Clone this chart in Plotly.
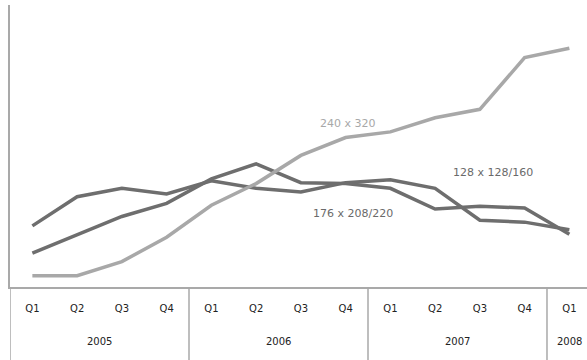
import plotly.graph_objects as go

# Quarterly categories
years = ["2005", "2006", "2007", "2008"]
quarters_per_year = [4, 4, 4, 1]
quarters = ["Q1", "Q2", "Q3", "Q4"] * 3 + ["Q1"]

# Share by screen resolution
res_240x320 = [1.2, 1.2, 2.7, 5.3, 8.7, 11.0, 14.0, 15.9, 16.5, 18.0, 18.9, 24.4, 25.4]
res_128x128_160 = [6.5, 9.6, 10.5, 9.9, 11.3, 10.5, 10.1, 11.1, 11.4, 10.5, 7.1, 6.9, 6.1]
res_176x208_220 = [3.6, 5.5, 7.5, 8.9, 11.5, 13.1, 11.1, 11.0, 10.5, 8.3, 8.6, 8.4, 5.6]

DARK = "#6e6e6e"
LIGHT = "#a8a8a8"
AXIS = "#a9a9a9"
TXT = "#222222"
FONT = "DejaVu Sans"

x = list(range(len(quarters)))

fig = go.Figure()
for vals, col in [(res_128x128_160, DARK), (res_176x208_220, DARK), (res_240x320, LIGHT)]:
    fig.add_trace(go.Scatter(
        x=x, y=vals, mode="lines",
        line=dict(color=col, width=3.5), showlegend=False, hoverinfo="skip",
    ))

# Inline series labels
labels = [
    ("240 x 320", 7.06, 17.4, LIGHT),
    ("128 x 128/160", 10.3, 12.2, "#6a6a6a"),
    ("176 x 208/220", 7.17, 7.8, "#6a6a6a"),
]
for txt, ix, yv, col in labels:
    fig.add_annotation(x=ix, y=yv, text=txt, showarrow=False,
                       font=dict(size=11, color=col, family=FONT))

# Year group labels and dividers below the axis
axis_depth = -73 / 282
start = 0
for yr, n in zip(years, quarters_per_year):
    fig.add_annotation(x=start + (n - 1) / 2, xref="x", y=-54 / 282, yref="paper",
                       text=yr, showarrow=False, yanchor="middle",
                       font=dict(size=10, color=TXT, family=FONT))
    fig.add_shape(type="line", x0=start - 0.5, x1=start - 0.5, xref="x",
                  y0=0, y1=axis_depth, yref="paper",
                  line=dict(color=AXIS, width=1.5))
    start += n

fig.update_xaxes(
    range=[-0.5, 12.394], tickvals=x, ticktext=quarters,
    showline=True, linecolor=AXIS, linewidth=2, ticks="", showgrid=False,
    zeroline=False, ticklabelstandoff=11,
    tickfont=dict(size=10, color=TXT, family=FONT),
)
fig.update_yaxes(
    range=[0, 30], showline=True, linecolor=AXIS, linewidth=2,
    showticklabels=False, ticks="", showgrid=False, zeroline=False,
)
fig.update_layout(
    width=587, height=360, margin=dict(l=10, r=0, t=5, b=73),
    plot_bgcolor="white", paper_bgcolor="white",
)
fig.write_html("out.html")
